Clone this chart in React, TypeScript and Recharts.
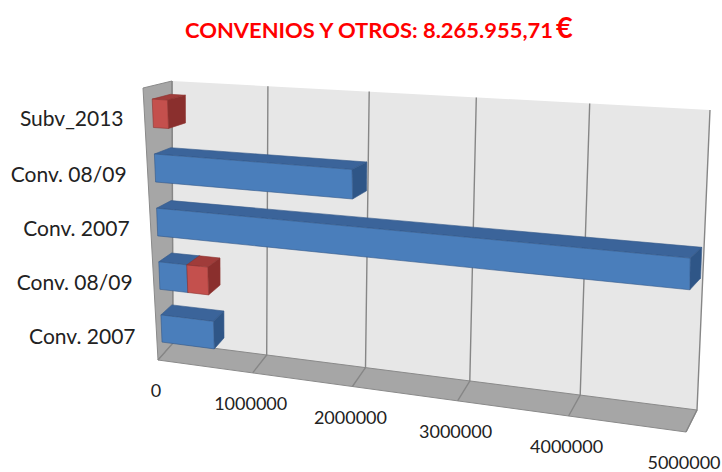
import React from "react";
import { Bar, BarChart, CartesianGrid, XAxis, YAxis } from "recharts";

// rows listed top to bottom as they appear on the chart
const categories = ["Subv_2013", "Conv. 08/09", "Conv. 2007", "Conv. 08/09", "Conv. 2007"];
const blueValues = [0, 2000000, 4990000, 300000, 560000];
const redValues = [160000, 0, 0, 220000, 0];
const xTicks = [0, 1000000, 2000000, 3000000, 4000000, 5000000];
const titleText = "CONVENIOS Y OTROS: 8.265.955,71";

const data = categories.map((name, i) => ({
  key: String(i),
  name,
  blue: blueValues[i],
  red: redValues[i],
}));

const W = 722;
const H = 472;
// flat plot area handed to recharts
const PL = 172;
const PT = 81;
const PW = 538;
const PH = 262;
const AXIS = 20;

const FONT = "Lato, 'Open Sans', sans-serif";

type Pt = [number, number];

// unit square -> quad (TL, TR, BR, BL)
function homography(q: Pt[]) {
  const [[x0, y0], [x1, y1], [x2, y2], [x3, y3]] = q;
  const dx1 = x1 - x2, dx2 = x3 - x2, dx3 = x0 - x1 + x2 - x3;
  const dy1 = y1 - y2, dy2 = y3 - y2, dy3 = y0 - y1 + y2 - y3;
  const den = dx1 * dy2 - dx2 * dy1;
  const g = (dx3 * dy2 - dx2 * dy3) / den;
  const h = (dx1 * dy3 - dx3 * dy1) / den;
  const a = x1 - x0 + g * x1, b = x3 - x0 + h * x3, c = x0;
  const d = y1 - y0 + g * y1, e = y3 - y0 + h * y3, f = y0;
  return (u: number, v: number): Pt => {
    const z = g * u + h * v + 1;
    return [(a * u + b * v + c) / z, (d * u + e * v + f) / z];
  };
}

const backPlane = homography([[172, 81], [710, 110], [697, 410], [173, 343]]);
const frontPlane = homography([[143, 88], [686, 122], [686, 432], [158, 360]]);

// u: along value axis, v: down the categories, w: 0 back wall -> 1 front edge
function project(u: number, v: number, w: number): Pt {
  const b = backPlane(u, v);
  const f = frontPlane(u, v);
  return [b[0] + (f[0] - b[0]) * w, b[1] + (f[1] - b[1]) * w];
}

const pts = (list: Pt[]) => list.map((p) => `${p[0].toFixed(1)},${p[1].toFixed(1)}`).join(" ");

const BAR_BACK = 0.06;
const BAR_FRONT = 0.7;

const BLUE = { front: "#4a7ebb", top: "#3b649a", side: "#2f5687", edge: "#34598a" };
const RED = { front: "#c4504d", top: "#a03c3a", side: "#8a2f2d", edge: "#8f3431" };

function Box3D(props: any) {
  const { x, y, width, height, palette } = props;
  if (!width || width <= 0.5) return null;
  const u0 = (x - PL) / PW;
  const u1 = Math.min(1, (x + width - PL) / PW);
  const v0 = (y - PT) / PH;
  const v1 = (y + height - PT) / PH;
  const f = (u: number, v: number) => project(u, v, BAR_FRONT);
  const b = (u: number, v: number) => project(u, v, BAR_BACK);
  return (
    <g strokeWidth={0.6} stroke={palette.edge} strokeLinejoin="round">
      <polygon points={pts([b(u0, v0), b(u1, v0), f(u1, v0), f(u0, v0)])} fill={palette.top} />
      <polygon points={pts([f(u1, v0), b(u1, v0), b(u1, v1), f(u1, v1)])} fill={palette.side} />
      <polygon points={pts([f(u0, v0), f(u1, v0), f(u1, v1), f(u0, v1)])} fill={palette.front} />
    </g>
  );
}

function CategoryTick(props: any) {
  const { payload } = props;
  const yy = payload?.coordinate ?? props.y;
  const v = (yy - PT) / PH;
  const [px, py] = project(0, v, 1);
  return (
    <text x={px - 21} y={py + 2} textAnchor="end" dominantBaseline="central" fontFamily={FONT} fontSize={21} fill="#222">
      {categories[Number(payload.value)]}
    </text>
  );
}

function ValueTick(props: any) {
  const { payload } = props;
  const xx = payload?.coordinate ?? props.x;
  const u = (xx - PL) / PW;
  const [px, py] = project(u, 1, 1);
  const cx = Math.min(px - 2, W - 38);
  return (
    <text x={cx} y={py + 30} textAnchor="middle" dominantBaseline="central" fontFamily={FONT} fontSize={18} fill="#222">
      {String(payload.value)}
    </text>
  );
}

function GridLine(props: any) {
  const { x1, index } = props;
  const u = (x1 - PL) / PW;
  const top = project(u, 0, 0);
  const bottom = project(u, 1, 0);
  const front = project(u, 1, 1);
  return (
    <polyline
      key={`grid-${index}`}
      points={pts([top, bottom, front])}
      fill="none"
      stroke="#868686"
      strokeWidth={1.4}
    />
  );
}

function Walls() {
  const back = [project(0, 0, 0), project(1, 0, 0), project(1, 1, 0), project(0, 1, 0)];
  const side = [project(0, 0, 0), project(0, 0, 1), project(0, 1, 1), project(0, 1, 0)];
  const floor = [project(0, 1, 0), project(1, 1, 0), project(1, 1, 1), project(0, 1, 1)];
  return (
    <g>
      <polygon points={pts(back)} fill="#e7e7e7" />
      <polygon points={pts(side)} fill="#a6a6a6" stroke="#8a8a8a" strokeWidth={1} />
      <polygon points={pts(floor)} fill="#a6a6a6" stroke="#8a8a8a" strokeWidth={1} />
    </g>
  );
}

export default function App() {
  return (
    <div style={{ position: "fixed", left: 0, top: 0, width: W, height: H, background: "#fff" }}>
      <svg width={W} height={H} style={{ position: "absolute", left: 0, top: 0 }}>
        <Walls />
        <text
          x={185}
          y={38}
          fontFamily={FONT}
          fontWeight="bold"
          fontSize={20}
          fill="#ff0000"
          textLength={368}
          lengthAdjust="spacingAndGlyphs"
        >
          {titleText}
        </text>
        <text x={556} y={38} fontFamily={FONT} fontWeight="bold" fontSize={29} fill="#ff0000">
          €
        </text>
      </svg>
      <div style={{ position: "absolute", left: 0, top: 0 }}>
        <BarChart
          width={W}
          height={H}
          data={data}
          layout="vertical"
          barCategoryGap="24%"
          margin={{ top: PT, left: PL - AXIS, right: W - PL - PW, bottom: H - PT - PH - AXIS }}
        >
          <CartesianGrid horizontal={false} vertical={(p: any) => <GridLine {...p} />} />
          <XAxis
            type="number"
            domain={[0, 5000000]}
            ticks={xTicks}
            interval={0}
            height={AXIS}
            axisLine={false}
            tickLine={false}
            tick={(p: any) => <ValueTick {...p} />}
          />
          <YAxis
            type="category"
            dataKey="key"
            width={AXIS}
            axisLine={false}
            tickLine={false}
            interval={0}
            tick={(p: any) => <CategoryTick {...p} />}
          />
          <Bar dataKey="blue" stackId="a" isAnimationActive={false} shape={(p: any) => <Box3D {...p} palette={BLUE} />} />
          <Bar dataKey="red" stackId="a" isAnimationActive={false} shape={(p: any) => <Box3D {...p} palette={RED} />} />
        </BarChart>
      </div>
    </div>
  );
}
